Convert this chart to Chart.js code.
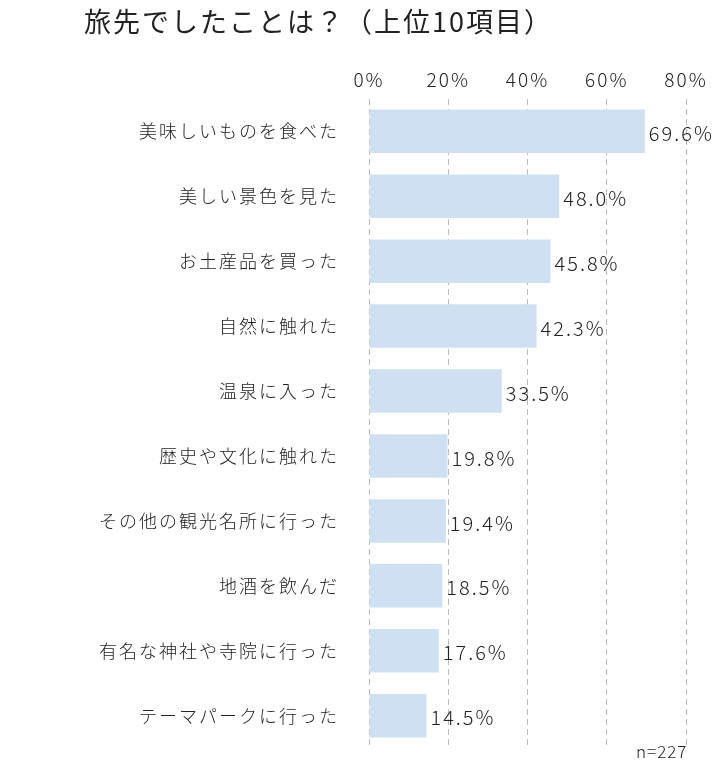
<!DOCTYPE html>
<html><head><meta charset="utf-8">
<script src="https://cdn.jsdelivr.net/npm/chart.js@4"></script>
<style>body{margin:0;background:#fff}#w{width:724px;height:781px;position:relative}</style>
</head><body><div id="w"><canvas id="c"></canvas></div>
<script>
const categories=["美味しいものを食べた","美しい景色を見た","お土産品を買った","自然に触れた","温泉に入った","歴史や文化に触れた","その他の観光名所に行った","地酒を飲んだ","有名な神社や寺院に行った","テーマパークに行った"];
const values=[69.6,48.0,45.8,42.3,33.5,19.8,19.4,18.5,17.6,14.5];
const tickLabels=["0%","20%","40%","60%","80%"];
const F='"Noto Sans CJK JP", sans-serif';
const labelPlugin={id:'lbl',afterDatasetsDraw(ch){const ctx=ch.ctx;const m=ch.getDatasetMeta(0);ctx.save();ctx.font='300 20px '+F;ctx.fillStyle='#222';ctx.textBaseline='middle';ctx.textAlign='left';
ctx.letterSpacing='2px';
m.data.forEach((b,i)=>{ctx.fillText(values[i].toFixed(1)+'%',b.x+4,b.y+2);});
ctx.font='300 17px '+F;ctx.letterSpacing='1px';ctx.fillText('n=227',636,752);
ctx.font='27px '+F;ctx.letterSpacing='2px';ctx.fillText('旅先でしたことは？（上位10項目）',84,22);ctx.restore();}};
new Chart(document.getElementById('c'),{type:'bar',data:{labels:categories,datasets:[{data:values,backgroundColor:'#cfe0f2',barPercentage:0.67,categoryPercentage:1}]},
options:{indexAxis:'y',responsive:true,maintainAspectRatio:false,animation:false,
layout:{padding:{top:60,right:38,bottom:0,left:0}},
plugins:{legend:{display:false},tooltip:{enabled:false}},
scales:{x:{position:'top',min:0,max:80,ticks:{stepSize:20,color:'#222',font:{family:F,size:19,weight:'300'},padding:8,callback:(v,i)=>tickLabels[i]},
grid:{drawTicks:false,color:'#bbb',lineWidth:1},border:{display:false,dash:[6,4]}},
y:{afterFit:s=>{s.width=369;},ticks:{color:'#222',font:{family:F,size:18,weight:'300'},padding:22},grid:{display:false},border:{display:false}}}},
plugins:[labelPlugin,{id:'ls',beforeDraw(ch){ch.ctx.letterSpacing='2px';}}]});
</script></body></html>
